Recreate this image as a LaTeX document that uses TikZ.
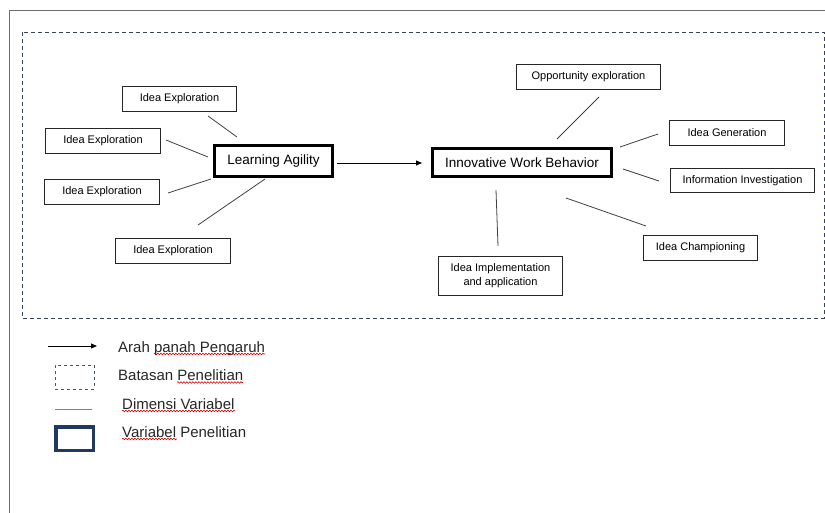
\documentclass[tikz,border=0pt]{standalone}
\usepackage{fontspec}
\setmainfont{Liberation Sans}
\usetikzlibrary{arrows.meta,decorations.pathmorphing}
\definecolor{framegray}{HTML}{6E6E6E}
\definecolor{linegray}{HTML}{404040}
\definecolor{navyblue}{HTML}{1F3864}
\definecolor{slategray}{HTML}{44546A}
\begin{document}
\begin{tikzpicture}[x=1pt,y=-1pt,
  dimbox/.style={draw=black!85, line width=0.9pt, inner sep=0pt, font=\fontsize{11}{14}\selectfont, align=center},
  varbox/.style={draw=black, line width=3pt, inner sep=0pt, font=\fontsize{13.5}{16}\selectfont},
  link/.style={draw=linegray, line width=0.8pt},
  infl/.style={draw=black, line width=0.8pt, -{Triangle[length=6pt,width=5pt]}},
  legtext/.style={anchor=base west, inner sep=0pt, font=\fontsize{15}{18}\selectfont, text=black!85},
  squig/.style={draw=red!85!black, line width=0.6pt, decorate, decoration={snake, amplitude=0.8pt, segment length=3pt}}
]
\useasboundingbox (0,0) rectangle (825,513);

% outer frame (left and top edges)
\draw[framegray, line width=1pt] (9,513) -- (9,11) -- (825,11);

% research boundary
\draw[slategray!80!black, line width=0.8pt, dash pattern=on 4pt off 3pt] (22,32) rectangle (824,318);

% main variables
\node[varbox, minimum width=118pt, minimum height=31pt] (la) at (273.5,161) {Learning Agility};
\node[varbox, minimum width=179pt, minimum height=28pt] (iwb) at (522,162.5) {Innovative Work Behavior};

% dimensions of Learning Agility
\node[dimbox, minimum width=114pt, minimum height=25pt] (ie1) at (179.5,99) {Idea Exploration};
\node[dimbox, minimum width=115pt, minimum height=25pt] (ie2) at (103,141) {Idea Exploration};
\node[dimbox, minimum width=115pt, minimum height=25pt] (ie3) at (102,192) {Idea Exploration};
\node[dimbox, minimum width=115pt, minimum height=25pt] (ie4) at (173,251) {Idea Exploration};

% dimensions of Innovative Work Behavior
\node[dimbox, minimum width=144pt, minimum height=25pt] (opp) at (588.5,77) {Opportunity exploration};
\node[dimbox, minimum width=115pt, minimum height=25pt] (gen) at (727,133) {Idea Generation};
\node[dimbox, minimum width=144pt, minimum height=24pt] (inf) at (742.5,180.5) {Information Investigation};
\node[dimbox, minimum width=114pt, minimum height=25pt] (champ) at (700.5,248) {Idea Championing};
\node[dimbox, minimum width=124pt, minimum height=39pt] (impl) at (500.5,276) {Idea Implementation\\and application};

% free-floating dimension lines
\coordinate (a1) at (208,116); \coordinate (b1) at (237,137);
\coordinate (a2) at (166,140); \coordinate (b2) at (208,157);
\coordinate (a3) at (168,193); \coordinate (b3) at (211,179);
\coordinate (a4) at (198,225); \coordinate (b4) at (265,179);
\draw[link] (a1) -- (b1);
\draw[link] (a2) -- (b2);
\draw[link] (a3) -- (b3);
\draw[link] (a4) -- (b4);

\coordinate (c1) at (557,139); \coordinate (d1) at (599,97);
\coordinate (c2) at (620,147); \coordinate (d2) at (658,134);
\coordinate (c3) at (623,169); \coordinate (d3) at (659,181);
\coordinate (c4) at (566,198); \coordinate (d4) at (646,226);
\coordinate (c5) at (496,190); \coordinate (d5) at (498,246);
\draw[link] (c1) -- (d1);
\draw[link] (c2) -- (d2);
\draw[link] (c3) -- (d3);
\draw[link] (c4) -- (d4);
\draw[link] (c5) -- (d5);

% influence arrow
\coordinate (arrS) at (337,163);
\coordinate (arrE) at (422,163);
\draw[infl] (arrS) -- (arrE);

% legend
\coordinate (l1a) at (48,346); \coordinate (l1b) at (97,346);
\draw[infl] (l1a) -- (l1b);
\node[legtext] (t1) at (118,352) {Arah panah Pengaruh};

\node[draw=slategray, line width=0.8pt, dash pattern=on 3pt off 3pt, minimum width=39pt, minimum height=24pt, inner sep=0pt] (lbox) at (74.5,377) {};
\node[legtext] (t2) at (118,380.5) {Batasan Penelitian};

\coordinate (l3a) at (55,409); \coordinate (l3b) at (92,409);
\draw[draw=gray, line width=0.8pt] (l3a) -- (l3b);
\node[legtext] (t3) at (122,409) {Dimensi Variabel};

\node[draw=navyblue, line width=3.5pt, minimum width=37.5pt, minimum height=23.5pt, inner sep=0pt] (lvar) at (74.5,438.5) {};
\node[legtext] (t4) at (122,437) {Variabel Penelitian};

% spell-check underlines
\draw[squig] (154,354) -- (265,354);
\draw[squig] (177,382.5) -- (243,382.5);
\draw[squig] (122,411) -- (235,411);
\draw[squig] (122,439) -- (177,439);
\end{tikzpicture}
\end{document}
